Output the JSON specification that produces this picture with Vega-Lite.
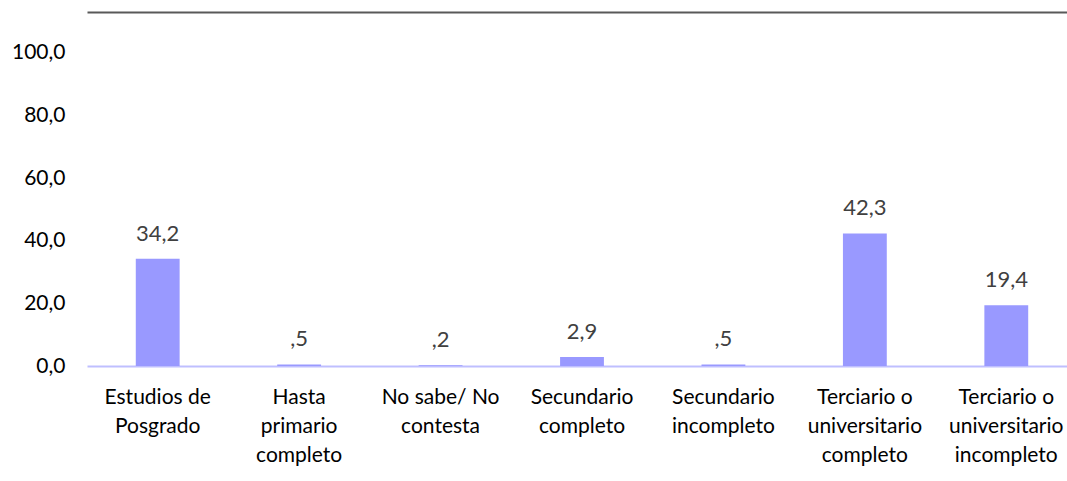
{
  "$schema": "https://vega.github.io/schema/vega-lite/v6.json",
  "autosize": {"type": "none"},
  "padding": {"left": 87, "top": 12, "right": 0, "bottom": 115},
  "width": 990,
  "height": 354,
  "background": "white",
  "config": {
    "locale": {"number": {"decimal": ",", "thousands": ".", "grouping": [3], "currency": ["", ""]}},
    "font": "Lato",
    "view": {"stroke": null}
  },
  "data": {
    "values": [
      {"categoria": "Estudios de|Posgrado", "valor": 34.2, "etiqueta": "34,2"},
      {"categoria": "Hasta|primario|completo", "valor": 0.5, "etiqueta": ",5"},
      {"categoria": "No sabe/ No|contesta", "valor": 0.2, "etiqueta": ",2"},
      {"categoria": "Secundario|completo", "valor": 2.9, "etiqueta": "2,9"},
      {"categoria": "Secundario|incompleto", "valor": 0.5, "etiqueta": ",5"},
      {"categoria": "Terciario o|universitario|completo", "valor": 42.3, "etiqueta": "42,3"},
      {"categoria": "Terciario o|universitario|incompleto", "valor": 19.4, "etiqueta": "19,4"}
    ]
  },
  "encoding": {
    "x": {
      "field": "categoria",
      "type": "nominal",
      "sort": null,
      "scale": {"paddingInner": 0.69, "paddingOuter": 0.345}
    },
    "y": {
      "field": "valor",
      "type": "quantitative",
      "scale": {"domain": [0, 113], "nice": false, "zero": true},
      "axis": {
        "title": null,
        "values": [0, 20, 40, 60, 80, 100],
        "format": ".1f",
        "grid": false,
        "ticks": false,
        "domain": false,
        "labelFont": "Lato",
        "labelFontSize": 21,
        "labelColor": "#000000",
        "labelPadding": 22
      }
    }
  },
  "resolve": {"axis": {"x": "independent"}},
  "layer": [
    {
      "mark": {"type": "bar", "color": "#9999FF"},
      "encoding": {
        "x": {
          "field": "categoria",
          "type": "nominal",
          "sort": null,
          "axis": {
            "title": null,
            "orient": "bottom",
            "labelAngle": 0,
            "labelExpr": "split(datum.label, '|')",
            "labelFont": "Lato",
            "labelFontSize": 21,
            "labelLineHeight": 29,
            "labelColor": "#000000",
            "labelPadding": 20,
            "labelOverlap": false,
            "ticks": false,
            "domainColor": "#BFBFFF",
            "domainWidth": 2
          }
        }
      }
    },
    {
      "mark": {"type": "text", "baseline": "alphabetic", "dy": -18, "fontSize": 22, "color": "#404040", "font": "Lato"},
      "encoding": {
        "text": {"field": "etiqueta"},
        "x": {
          "field": "categoria",
          "type": "nominal",
          "sort": null,
          "axis": {
            "title": null,
            "orient": "top",
            "labels": false,
            "ticks": false,
            "domainColor": "#595959",
            "domainWidth": 2
          }
        }
      }
    }
  ]
}
